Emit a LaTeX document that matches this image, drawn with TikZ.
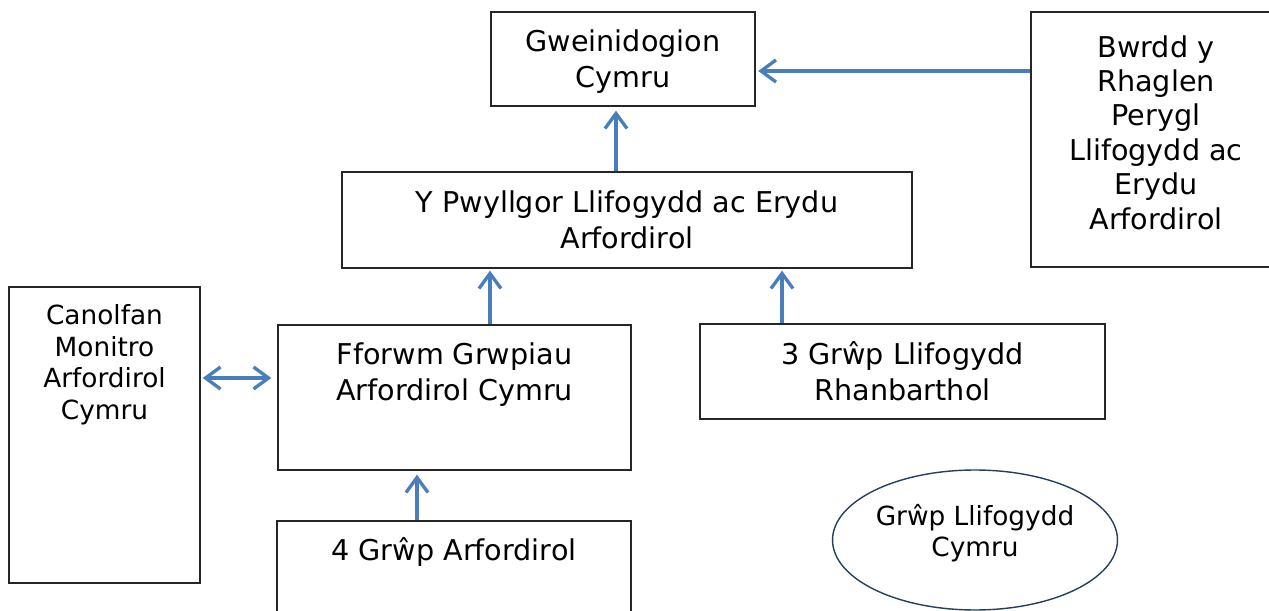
\documentclass[tikz,border=0pt]{standalone}
\usepackage{fontspec}
\setmainfont{DejaVu Sans}
\usetikzlibrary{arrows.meta}
\usetikzlibrary{shapes.geometric}
\definecolor{arrowblue}{HTML}{4A7EBB}
\definecolor{ovalblue}{HTML}{243F60}
\begin{document}
\begin{tikzpicture}[x=0.02cm, y=-0.02cm,
    box/.style={draw=black!85, line width=0.8pt, inner sep=0pt},
    bigtext/.style={align=center, font=\fontsize{16.3}{20.5}\selectfont},
    smalltext/.style={align=center, font=\fontsize{15}{18}\selectfont},
    link/.style={draw=arrowblue, line width=1.9pt, -{Straight Barb[length=0.3cm, width=0.44cm]}},
    twolink/.style={link, {Straight Barb[length=0.3cm, width=0.44cm]}-{Straight Barb[length=0.3cm, width=0.44cm]}}]
        \useasboundingbox (0, 0) rectangle (1269, 611);

        \node [box, minimum width=5.28cm, minimum height=1.88cm] (gov) at (623, 59) {};
        \node [bigtext, inner sep=0pt] at ([yshift=-0.06cm]gov.center) {Gweinidogion\\Cymru};
        \node [box, minimum width=5cm, minimum height=5.1cm] (board) at (1156, 139.5) {};
        \node [align=center, font=\fontsize{16.3}{19.6}\selectfont, inner sep=0pt] at ([yshift=0.14cm]board.center) {Bwrdd y\\Rhaglen\\Perygl\\Llifogydd ac\\Erydu\\Arfordirol};
        \node [box, bigtext, minimum width=11.4cm, minimum height=1.92cm] (committee) at (627, 220) {Y Pwyllgor Llifogydd ac Erydu\\Arfordirol};
        \node [box, minimum width=7.06cm, minimum height=2.9cm] (forum) at (454.5, 397.5) {};
        \node [bigtext, anchor=north, inner sep=0pt] at ([yshift=-0.36cm]forum.north) {Fforwm Grwpiau\\Arfordirol Cymru};
        \node [box, bigtext, minimum width=8.1cm, minimum height=1.9cm] (region) at (902.5, 371.5) {3 Grŵp Llifogydd\\Rhanbarthol};
        \node [box, minimum width=7.08cm, minimum height=2.58cm] (coastal) at (454, 585.5) {};
        \node [bigtext, anchor=north, inner sep=0pt] at ([yshift=-0.34cm]coastal.north) {4 Grŵp Arfordirol};
        \node [box, minimum width=3.82cm, minimum height=5.92cm] (monitor) at (104.5, 435) {};
        \node [smalltext, anchor=north, inner sep=0pt] at ([yshift=-0.36cm]monitor.north) {Canolfan\\Monitro\\Arfordirol\\Cymru};
        \node [ellipse, draw=ovalblue, line width=0.8pt, minimum width=5.7cm, minimum height=2.8cm] (floodgrp) at (975, 540) {};
        \node [smalltext, inner sep=0pt] at ([yshift=0.14cm]floodgrp.center) {Grŵp Llifogydd\\Cymru};

        \draw [link] (board.west |- 0, 71) -- ([xshift=0.05cm]gov.east |- 0, 71);
        \draw [link] (committee.north -| 616, 0) -- ([yshift=-0.08cm]gov.south -| 616, 0);
        \draw [link] (forum.north -| 490, 0) -- ([yshift=-0.04cm]committee.south -| 490, 0);
        \draw [link] (region.north -| 782, 0) -- ([yshift=-0.04cm]committee.south -| 782, 0);
        \draw [link] (coastal.north -| 417, 0) -- ([yshift=-0.08cm]forum.south -| 417, 0);
        \draw [twolink] ([xshift=0.04cm]monitor.east |- 0, 378) -- ([xshift=-0.12cm]forum.west |- 0, 378);
    \end{tikzpicture}
\end{document}
